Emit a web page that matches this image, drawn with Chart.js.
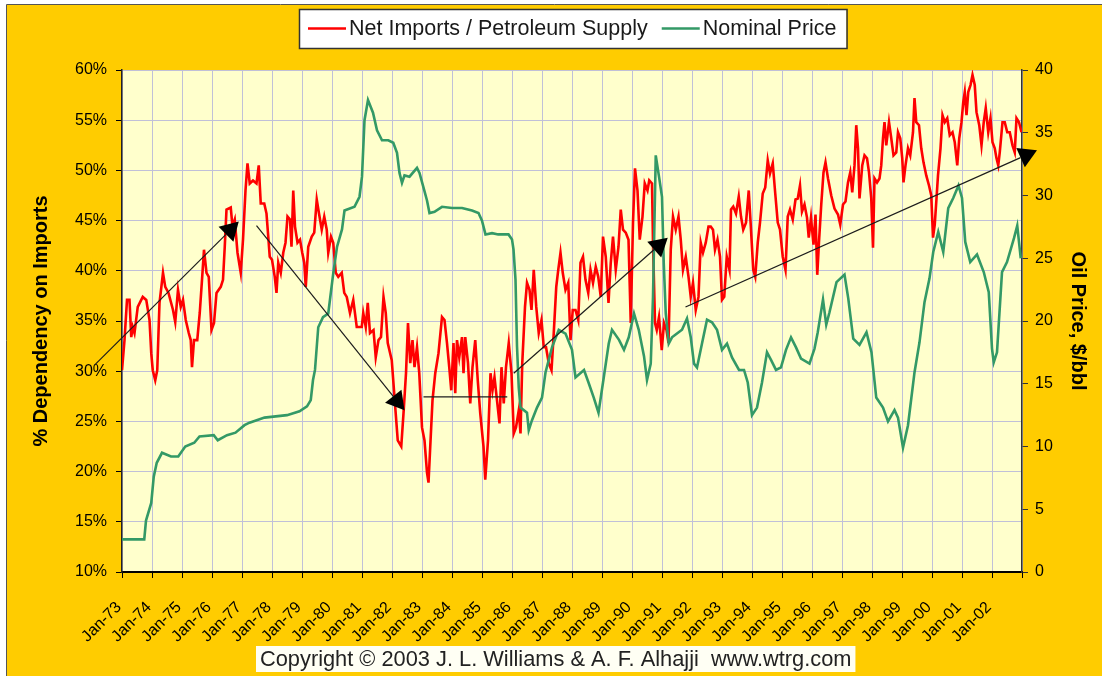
<!DOCTYPE html>
<html>
<head>
<meta charset="utf-8">
<title>Net Imports vs Oil Price</title>
<script src="https://cdn.jsdelivr.net/npm/chart.js@4.4.1/dist/chart.umd.min.js"></script>
<style>
  html, body { margin: 0; padding: 0; background: #fff; }
  #wrap { width: 1102px; height: 676px; }
</style>
</head>
<body>
<div id="wrap"><canvas id="chart" width="1102" height="676"></canvas></div>
<script>
// x = months since Jan-73
const yearLabels = ['Jan-73','Jan-74','Jan-75','Jan-76','Jan-77','Jan-78','Jan-79','Jan-80','Jan-81','Jan-82',
  'Jan-83','Jan-84','Jan-85','Jan-86','Jan-87','Jan-88','Jan-89','Jan-90','Jan-91','Jan-92',
  'Jan-93','Jan-94','Jan-95','Jan-96','Jan-97','Jan-98','Jan-99','Jan-00','Jan-01','Jan-02'];

// Net imports / petroleum supply, %
const importShare = [
  [0,30.1],[1,33.1],[2,37.1],[3,37.1],[3.7,33.4],[4.3,34.4],[5,33.8],[6.3,36.4],[8.3,37.4],[9.7,37.1],
  [11,35.1],[11.7,31.8],[12.3,30.1],[13.3,29.1],[14.1,30.1],[15,36.8],[16.4,39.8],[17.3,38.4],[18.6,37.8],[20.4,36.1],
  [21.3,34.9],[22.4,38.1],[23.5,36.4],[24.4,37.1],[25.5,35.1],[26.7,33.8],[27.5,33.1],[28,30.4],[28.8,33.1],[30.1,33.1],
  [31.1,35.8],[32,39.1],[32.8,42.1],[33.8,39.8],[34.7,39.4],[35.8,34.1],[36.8,34.8],[37.8,37.8],[39.5,38.4],[40.4,39.1],
  [41.1,42.4],[41.8,46.1],[43.5,46.3],[44.2,44.4],[45.1,45.1],[46.2,41.8],[47.5,39.8],[48.4,43.1],[49.4,48.0],[50.2,50.7],
  [51.1,48.7],[52.4,49.0],[53.8,48.7],[54.7,50.5],[55.5,46.7],[56.9,46.7],[57.8,45.7],[58.5,43.4],[59.1,41.4],[60,41.1],
  [61.1,39.4],[61.8,37.8],[62.5,40.8],[63.5,39.8],[64.5,41.8],[65.4,42.8],[66.2,45.4],[67.2,45.1],[67.8,42.4],[68.5,48.0],
  [69.2,44.4],[70.2,42.8],[71.2,43.1],[72.1,41.8],[72.9,40.8],[73.5,38.4],[74.5,42.4],[75.9,43.4],[76.9,43.8],[77.9,47.1],
  [78.8,45.7],[79.9,44.1],[80.9,45.4],[81.9,44.1],[82.5,41.8],[83.6,43.4],[84.5,42.8],[85.5,39.8],[86.5,39.4],[87.9,39.8],
  [88.9,37.8],[89.9,37.4],[91.2,35.8],[92.5,37.1],[93.9,34.4],[95.9,34.4],[96.5,35.8],[97.5,34.4],[98.3,36.8],[99.2,33.8],
  [100.6,34.1],[101.5,31.4],[102.6,33.1],[103.6,33.4],[104.6,37.4],[105.5,35.8],[106.3,32.8],[107.9,31.1],[109.3,26.4],[110.3,23.1],
  [111.7,22.5],[112.6,25.8],[113.6,29.8],[114.4,34.8],[115.3,30.8],[116.2,33.1],[117,30.4],[118,32.4],[118.9,29.8],[120,24.4],
  [121,23.1],[122,19.9],[122.6,18.9],[123.3,22.5],[124.2,27.1],[125.3,29.8],[126.6,31.8],[128,35.4],[129,35.1],[130,32.8],
  [130.9,30.4],[131.7,28.1],[132.6,32.8],[133.3,27.8],[134,33.1],[134.9,31.4],[136,33.4],[136.6,29.8],[137.3,33.4],[138.4,30.8],
  [139.3,26.8],[140.2,30.4],[141.3,33.1],[142.3,29.1],[143.3,25.8],[144.6,22.5],[145.3,19.2],[146.4,23.1],[147.4,29.8],[148.2,28.1],
  [149,29.4],[150,27.1],[151,24.8],[151.8,30.4],[152.7,26.8],[153.6,30.4],[154.7,32.8],[155.8,29.8],[156.7,23.8],[157.6,24.4],
  [158.7,26.1],[159.4,23.8],[160.1,30.8],[161.2,36.4],[162,38.8],[163,38.1],[163.8,36.1],[164.7,40.1],[165.7,36.4],[166.7,33.8],
  [167.8,35.1],[168.7,32.4],[169.6,32.4],[170.7,30.8],[171.8,30.1],[172.7,33.8],[173.7,38.4],[174.5,40.1],[175.4,41.8],[176.3,39.8],
  [177.4,38.1],[178.5,38.8],[179.4,33.1],[180.3,36.1],[181.4,36.1],[182.5,35.1],[183.4,40.8],[184.4,41.4],[185.4,39.1],[186.5,37.8],
  [187.4,40.1],[188.4,38.8],[189.5,40.4],[190.5,39.4],[191.5,37.4],[192.4,43.4],[193.5,41.4],[194.6,36.8],[195.5,40.8],[196.4,43.4],
  [197.5,40.1],[198.6,42.4],[199.5,46.1],[200.4,44.1],[201.5,43.8],[202.6,43.1],[203.5,34.8],[204.4,44.8],[205.2,50.2],[206.2,48.0],
  [207.1,43.1],[208.2,45.4],[209.1,48.7],[210.2,48.0],[210.9,49.0],[212,48.7],[212.4,42.8],[213.2,34.8],[213.9,34.1],[214.8,35.4],
  [215.9,32.1],[216.8,34.8],[217.8,34.1],[218.6,32.8],[219.5,42.1],[220.4,45.4],[221.5,44.1],[222.6,45.4],[223.5,43.1],[224.4,40.1],
  [225.5,41.4],[226.6,39.4],[227.5,37.4],[228.4,38.8],[229.5,36.1],[230.6,37.4],[231.5,42.8],[232.4,41.8],[233.5,42.8],[234.6,44.4],
  [235.5,44.4],[236.4,44.1],[237.2,42.1],[238.2,43.1],[239.2,41.4],[240,37.1],[240.9,37.4],[241.9,41.4],[243,40.1],[243.6,46.1],
  [244.5,46.4],[245.6,45.7],[246.7,47.4],[247.6,45.4],[248.5,44.1],[249.6,44.8],[250.7,48.0],[251.6,44.1],[252.5,40.1],[253.3,39.4],
  [254.3,42.8],[255.2,44.8],[256.3,47.7],[257.3,48.3],[258.3,51.0],[259.2,49.7],[260.3,50.7],[261.3,47.7],[262.3,44.8],[263.2,44.1],
  [264.3,41.4],[265.4,40.1],[266.3,45.4],[267.2,46.1],[268.3,45.1],[269.4,47.1],[270.3,47.2],[271.2,48.5],[272,45.9],[273,46.6],
  [274,45.3],[274.7,43.3],[275.6,45.3],[276.6,42.6],[277.4,45.6],[278.1,39.6],[278.8,42.9],[279.7,46.6],[280.6,49.8],[281.4,50.8],
  [282.4,49.2],[283.7,47.5],[285,46.2],[286.4,45.6],[287.3,44.6],[288.4,46.6],[289.4,46.9],[290.4,48.8],[291.3,49.8],[292.1,47.8],
  [293,50.5],[293.7,54.5],[294.4,52.2],[295,47.2],[296.1,50.5],[297,51.5],[298,51.2],[298.8,49.8],[299.7,47.2],[300.4,42.3],
  [301,49.2],[302,48.8],[303,49.2],[303.7,50.5],[304.4,53.2],[305,54.8],[305.7,52.5],[306.8,54.8],[307.7,53.2],[308.6,51.5],
  [309.7,51.8],[310.4,53.8],[311.3,53.2],[312.1,51.2],[312.6,48.8],[313.4,50.5],[314.4,52.2],[315.3,51.5],[316.4,53.8],[317,57.2],
  [317.7,54.8],[318.8,54.5],[319.7,52.2],[320.6,50.8],[321.7,49.5],[322.8,48.5],[323.7,47.5],[324.4,43.3],[325.1,44.6],[325.8,47.2],
  [326.4,49.5],[327.4,52.2],[328.2,55.5],[329.1,54.8],[330.1,55.2],[331.1,53.5],[332.2,53.8],[333.1,52.8],[334.1,50.5],[334.9,53.2],
  [335.8,54.8],[336.5,56.8],[337.1,57.8],[337.8,55.5],[338.5,57.8],[339.4,58.5],[340.2,59.5],[341.1,58.5],[341.8,55.8],[342.9,54.5],
  [343.8,52.5],[344.7,54.8],[345.5,56.2],[346.5,53.8],[347.4,55.2],[348.2,52.8],[349.1,52.2],[349.8,51.2],[350.5,50.5],[351.1,51.8],
  [352.2,54.8],[353.1,54.8],[354.1,53.8],[355.1,53.8],[356.2,52.5],[357.1,51.8],[357.8,55.2],[358.8,54.8],[359.8,53.8]
];

// Nominal oil price, $/bbl
const oilPrice = [
  [0,2.6],[8.9,2.6],[9.6,4.1],[11.7,5.5],[12.7,7.6],[13.9,8.7],[16,9.5],[19.6,9.2],[22.5,9.2],[25.3,10.0],
  [28.9,10.3],[31,10.8],[36.7,10.9],[38.3,10.5],[42,10.9],[45.4,11.1],[49,11.7],[51,11.9],[57,12.3],[66,12.5],
  [71,12.8],[74,13.2],[75.5,13.7],[76.4,15.3],[77.2,16.1],[78.5,19.5],[80.4,20.3],[82.5,20.6],[84.5,23.8],[86,25.9],
  [88,27.3],[89,28.8],[93,29.1],[95,29.9],[96,31.5],[97,36.0],[98.4,37.6],[100.4,36.6],[102,35.2],[104,34.4],
  [106.5,34.4],[108.5,34.2],[110,33.4],[111,31.8],[112,31.0],[113,31.6],[115,31.5],[118,32.2],[119,31.8],[120.5,30.7],
  [122,29.6],[123,28.6],[125,28.7],[128,29.1],[132,29.0],[136,29.0],[140,28.8],[142.6,28.6],[144,28.0],[145.4,26.9],
  [148,27.0],[150.5,26.9],[154.6,26.9],[156,26.5],[156.6,25.7],[157.4,23.3],[158,18.0],[158.7,14.7],[159.4,13.1],[162,12.7],
  [162.7,11.3],[164,12.1],[166,13.1],[168,13.9],[169.4,15.9],[172,17.9],[174.7,19.3],[177.4,19.0],[180,17.7],[181.4,15.5],
  [184.8,16.1],[186.6,15.1],[188.7,13.9],[190.6,12.7],[192.7,15.5],[194.7,18.2],[196,19.3],[198.8,18.5],[200.8,17.7],[202.7,18.7],
  [204.8,20.6],[206.7,19.3],[208.8,17.2],[210,15.3],[211.5,16.6],[212.4,21.9],[213.5,33.2],[214.8,31.5],[216,29.9],[216.7,24.6],
  [217.5,20.6],[218.7,18.2],[220,18.7],[222,19.0],[224,19.3],[226,20.2],[227.5,18.7],[228.8,16.6],[230,16.3],[232,18.2],
  [234,20.1],[236,19.9],[238,19.3],[240,17.7],[242,18.2],[244,17.1],[246.8,16.1],[248.8,16.1],[250.3,15.1],[252,12.5],
  [254,13.1],[256,15.1],[258,17.5],[259.6,16.9],[261.6,16.1],[263.6,16.3],[265.6,17.7],[267.6,18.7],[269.6,17.9],[271.6,17.0],
  [275,16.6],[277,17.8],[278.3,19.1],[280.4,21.7],[281.7,19.7],[283,20.7],[285.8,23.1],[289,23.7],[290.5,21.8],[292.5,18.6],
  [295,18.1],[297.8,19.1],[299.8,17.5],[301.7,13.9],[304.4,13.1],[306.4,12.0],[309,12.9],[310.4,12.3],[312.4,9.9],[314.4,11.7],
  [317,15.9],[319,18.3],[321,21.5],[323,23.4],[324.5,25.5],[326.5,27.1],[328.5,25.5],[330.5,29.0],[332.5,29.8],[334.6,30.8],
  [336,29.8],[337.3,26.3],[339.3,24.7],[342,25.3],[344.7,23.9],[346.7,22.3],[348,17.8],[348.7,16.7],[350,17.5],[352,23.9],
  [354,24.7],[356.8,26.6],[358.1,27.6],[359.5,25.0]
];

// trend arrows drawn on the chart, in (month, %) units
const trendArrows = [
  { from: [-11, 30.6], to: [46.7, 44.9], head: true },
  { from: [53.8, 44.5], to: [113, 26.1], head: true },
  { from: [120.6, 27.45], to: [154.1, 27.45], head: false },
  { from: [156.7, 29.8], to: [218.3, 43.3], head: true },
  { from: [225.4, 36.4], to: [366, 52.0], head: true }
];

const FONT = "'Liberation Sans', Arial, sans-serif";
const GOLD = '#ffcc00';
const PLOT_BG = '#ffffcc';
const GRID = '#c0c0d8';

const toPoints = arr => arr.map(p => ({ x: p[0], y: p[1] }));

const backgroundPlugin = {
    id: 'background',
    beforeDraw(chart) {
        const { ctx, width, height, chartArea } = chart;
        ctx.save();
        ctx.fillStyle = '#fff';
        ctx.fillRect(0, 0, width, height);
        ctx.fillStyle = GOLD;
        ctx.fillRect(7, 5, width - 7, height - 5);
        ctx.strokeStyle = '#555';
        ctx.lineWidth = 1;
        ctx.beginPath();
        ctx.moveTo(6.5, height);
        ctx.lineTo(6.5, 4.5);
        ctx.lineTo(width, 4.5);
        ctx.stroke();
        ctx.fillStyle = PLOT_BG;
        ctx.fillRect(chartArea.left, chartArea.top, chartArea.right - chartArea.left, chartArea.bottom - chartArea.top);
        ctx.restore();
    }
};

const arrowsPlugin = {
    id: 'trendArrows',
    afterDatasetsDraw(chart) {
        const { ctx, scales } = chart;
        ctx.save();
        ctx.strokeStyle = '#1c1c1c';
        ctx.fillStyle = '#000';
        ctx.lineWidth = 1.2;
        trendArrows.forEach(a => {
            const x1 = scales.x.getPixelForValue(a.from[0]);
            const y1 = scales.y.getPixelForValue(a.from[1]);
            const x2 = scales.x.getPixelForValue(a.to[0]);
            const y2 = scales.y.getPixelForValue(a.to[1]);
            const ang = Math.atan2(y2 - y1, x2 - x1);
            const len = 18, half = 10.5;
            const bx = x2 - len * Math.cos(ang), by = y2 - len * Math.sin(ang);
            ctx.beginPath();
            ctx.moveTo(x1, y1);
            ctx.lineTo(a.head ? bx : x2, a.head ? by : y2);
            ctx.stroke();
            if (a.head) {
                ctx.beginPath();
                ctx.moveTo(x2, y2);
                ctx.lineTo(bx + half * Math.sin(ang), by - half * Math.cos(ang));
                ctx.lineTo(bx - half * Math.sin(ang), by + half * Math.cos(ang));
                ctx.closePath();
                ctx.fill();
            }
        });
        ctx.restore();
    }
};

const legendPlugin = {
    id: 'boxLegend',
    afterDraw(chart) {
        const { ctx } = chart;
        const items = [chart.data.datasets[1], chart.data.datasets[0]];
        ctx.save();
        ctx.font = '21.5px ' + FONT;
        const left = 299, top = 9, h = 39;
        let w = 9;
        items.forEach((d, i) => { w += 38 + 3 + ctx.measureText(d.label).width + (i ? 10 : 14); });
        ctx.fillStyle = '#fff';
        ctx.fillRect(left, top, w, h);
        ctx.strokeStyle = '#333';
        ctx.lineWidth = 1.5;
        ctx.strokeRect(left + 0.5, top + 0.5, w, h);
        let x = left + 9;
        const cy = top + h / 2;
        items.forEach(d => {
            ctx.strokeStyle = d.borderColor;
            ctx.lineWidth = 2.6;
            ctx.beginPath();
            ctx.moveTo(x, cy);
            ctx.lineTo(x + 38, cy);
            ctx.stroke();
            x += 41;
            ctx.fillStyle = '#1a1a1a';
            ctx.textBaseline = 'middle';
            ctx.fillText(d.label, x, cy + 1);
            x += ctx.measureText(d.label).width + 14;
        });

        // copyright strip
        const note = 'Copyright \u00a9 2003 J. L. Williams & A. F. Alhajji  www.wtrg.com';
        ctx.font = '21.8px ' + FONT;
        const nw = ctx.measureText(note).width;
        ctx.fillStyle = '#fffff4';
        ctx.fillRect(256, 646, nw + 8, 26);
        ctx.fillStyle = '#222';
        ctx.textBaseline = 'middle';
        ctx.fillText(note, 260, 660);
        ctx.restore();
    }
};

new Chart(document.getElementById('chart'), {
    type: 'line',
    data: {
        datasets: [
            {
                label: 'Nominal Price',
                data: toPoints(oilPrice),
                yAxisID: 'y1',
                borderColor: '#339966',
                borderWidth: 2.6,
                pointRadius: 0,
                tension: 0,
                order: 0
            },
            {
                label: 'Net Imports / Petroleum Supply',
                data: toPoints(importShare),
                yAxisID: 'y',
                borderColor: '#ff0000',
                borderWidth: 2.6,
                pointRadius: 0,
                tension: 0,
                order: 1
            }
        ]
    },
    options: {
        responsive: false,
        animation: false,
        layout: { padding: { top: 70, left: 0, right: 0, bottom: 0 } },
        plugins: { legend: { display: false }, tooltip: { enabled: false } },
        scales: {
            x: {
                type: 'linear',
                min: 0,
                max: 360,
                afterFit: s => { s.height = 104; },
                grid: { color: GRID, lineWidth: 1, tickColor: '#000', tickLength: 6 },
                border: { color: '#000', width: 2 },
                ticks: {
                    stepSize: 12,
                    autoSkip: false,
                    maxRotation: 45,
                    minRotation: 45,
                    padding: 20,
                    labelOffset: -3,
                    color: '#000',
                    font: { family: FONT, size: 16 },
                    callback: v => yearLabels[v / 12] || ''
                }
            },
            y: {
                type: 'linear',
                position: 'left',
                min: 10,
                max: 60,
                afterFit: s => { s.width = 122; },
                grid: { color: GRID, lineWidth: 1, tickColor: '#000', tickLength: 6 },
                border: { color: '#222', width: 1.5 },
                ticks: {
                    stepSize: 5,
                    padding: 9,
                    color: '#000',
                    font: { family: FONT, size: 16 },
                    callback: v => v + '%'
                },
                title: {
                    display: true,
                    text: '% Dependency on Imports',
                    color: '#000',
                    font: { family: FONT, size: 20, weight: 'bold' },
                    padding: { top: 29, bottom: 0 }
                }
            },
            y1: {
                type: 'linear',
                position: 'right',
                min: 0,
                max: 40,
                afterFit: s => { s.width = 80; },
                grid: { drawOnChartArea: false, tickColor: '#333', tickLength: 6 },
                border: { color: '#333', width: 1.5 },
                ticks: {
                    stepSize: 5,
                    padding: 7,
                    color: '#000',
                    font: { family: FONT, size: 16 }
                },
                title: {
                    display: true,
                    text: 'Oil Price, $/bbl',
                    color: '#000',
                    font: { family: FONT, size: 20, weight: 'bold' },
                    padding: { top: 12, bottom: 0 }
                }
            }
        }
    },
    plugins: [backgroundPlugin, arrowsPlugin, legendPlugin]
});
</script>
</body>
</html>
